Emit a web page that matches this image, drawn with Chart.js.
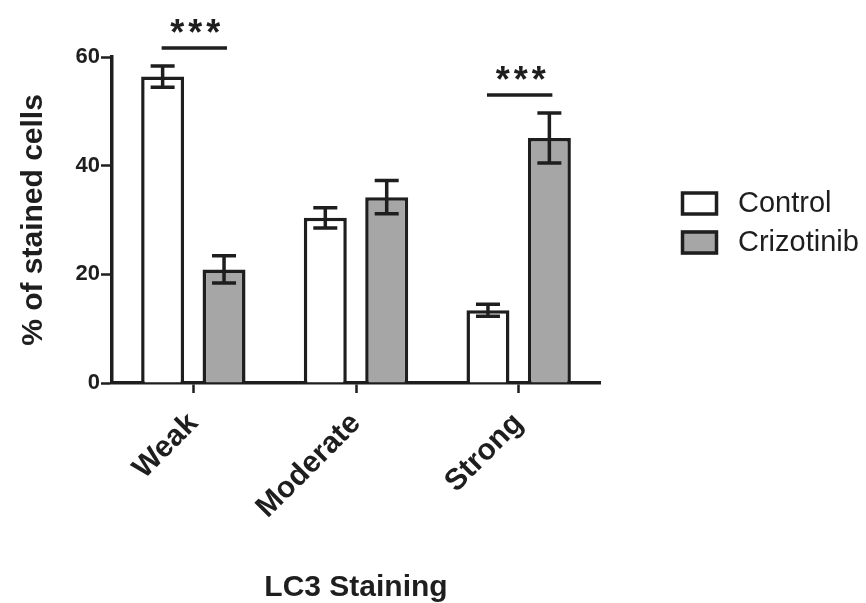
<!DOCTYPE html>
<html>
<head>
<meta charset="utf-8">
<script src="https://cdn.jsdelivr.net/npm/chart.js@4.4.1/dist/chart.umd.min.js"></script>
<style>
  html, body { margin: 0; padding: 0; background: #fff; }
  #wrap { width: 866px; height: 603px; }
</style>
</head>
<body>
<div id="wrap"><canvas id="chart" width="866" height="603"></canvas></div>
<script>
// data
const categories = ['Weak', 'Moderate', 'Strong'];
const seriesNames = ['Control', 'Crizotinib'];
const controlValues = [56.4, 30.4, 13.4];
const controlErrors = [1.95, 1.85, 1.1];
const crizotinibValues = [20.9, 34.2, 45.1];
const crizotinibErrors = [2.5, 3.05, 4.6];
const yTicks = [0, 20, 40, 60];
const sigCategories = [0, 2]; // Weak, Strong
const sigLabels = ['***', '***'];

const ink = '#1e1e1e';
const fontFamily = '"Liberation Sans", Arial, sans-serif';

// error bars + significance marks
const errorBarPlugin = {
    id: 'errorBars',
    afterDatasetsDraw(chart) {
        const ctx = chart.ctx;
        const yScale = chart.scales.y;
        const errs = [controlErrors, crizotinibErrors];
        ctx.save();
        ctx.strokeStyle = ink;
        ctx.lineWidth = 3.5;
        chart.data.datasets.forEach((ds, i) => {
            const meta = chart.getDatasetMeta(i);
            meta.data.forEach((bar, j) => {
                const v = ds.data[j];
                const e = errs[i][j];
                const top = yScale.getPixelForValue(v + e);
                const bot = yScale.getPixelForValue(v - e);
                const half = 12;
                ctx.beginPath();
                ctx.moveTo(bar.x, top);
                ctx.lineTo(bar.x, bot);
                ctx.moveTo(bar.x - half, top);
                ctx.lineTo(bar.x + half, top);
                ctx.moveTo(bar.x - half, bot);
                ctx.lineTo(bar.x + half, bot);
                ctx.stroke();
            });
        });

        // significance lines
        sigCategories.forEach((idx, k) => {
            const b0 = chart.getDatasetMeta(0).data[idx];
            const b1 = chart.getDatasetMeta(1).data[idx];
            const highest = Math.max(controlValues[idx] + controlErrors[idx],
                                     crizotinibValues[idx] + crizotinibErrors[idx]);
            const y = yScale.getPixelForValue(highest + 3.3);
            ctx.lineWidth = 3.5;
            ctx.beginPath();
            ctx.moveTo(b0.x - 1, y);
            ctx.lineTo(b1.x + 3, y);
            ctx.stroke();
            ctx.fillStyle = ink;
            ctx.font = 'bold 36px ' + fontFamily;
            ctx.textAlign = 'center';
            ctx.textBaseline = 'middle';
            ctx.letterSpacing = '4px';
            ctx.fillText(sigLabels[k], (b0.x + b1.x) / 2 + 4, y - 13);
            ctx.letterSpacing = '0px';
        });
        ctx.restore();
    }
};

// legend on the right, drawn from the datasets
const sideLegendPlugin = {
    id: 'sideLegend',
    afterDraw(chart) {
        const ctx = chart.ctx;
        const area = chart.chartArea;
        const x = area.right + 81;
        const step = 39;
        const mid = (area.top + area.bottom) / 2 + 3;
        ctx.save();
        chart.data.datasets.forEach((ds, i) => {
            const cy = mid + (i - 0.5) * step;
            ctx.fillStyle = ds.backgroundColor;
            ctx.fillRect(x, cy - 12, 37, 24);
            ctx.strokeStyle = ink;
            ctx.lineWidth = 3.5;
            ctx.strokeRect(x + 1.5, cy - 10.5, 34, 21);
            ctx.fillStyle = ink;
            ctx.font = '29px ' + fontFamily;
            ctx.textAlign = 'left';
            ctx.textBaseline = 'middle';
            ctx.fillText(ds.label, x + 57, cy);
        });
        ctx.restore();
    }
};

const ctx = document.getElementById('chart').getContext('2d');
new Chart(ctx, {
    type: 'bar',
    data: {
        labels: categories,
        datasets: [
            {
                label: seriesNames[0],
                data: controlValues,
                backgroundColor: '#ffffff',
                borderColor: ink,
                borderWidth: 3.5,
                barPercentage: 0.7,
                categoryPercentage: 0.755
            },
            {
                label: seriesNames[1],
                data: crizotinibValues,
                backgroundColor: '#a6a6a6',
                borderColor: ink,
                borderWidth: 3.5,
                barPercentage: 0.7,
                categoryPercentage: 0.755
            }
        ]
    },
    options: {
        responsive: false,
        animation: false,
        layout: { padding: { top: 57, right: 266, bottom: 0, left: 0 } },
        plugins: {
            legend: { display: false },
            tooltip: { enabled: false }
        },
        scales: {
            x: {
                grid: {
                    offset: false,
                    drawOnChartArea: false,
                    drawTicks: true,
                    tickLength: 10,
                    tickWidth: 2.5,
                    tickColor: ink
                },
                border: { display: true, color: ink, width: 3.5 },
                ticks: {
                    color: ink,
                    font: { family: fontFamily, size: 30, weight: 'bold' },
                    minRotation: 45,
                    maxRotation: 45,
                    autoSkip: false,
                    padding: 13
                },
                title: {
                    display: true,
                    text: 'LC3 Staining',
                    color: ink,
                    font: { family: fontFamily, size: 30, weight: 'bold', lineHeight: 1.0 },
                    padding: { top: 0, bottom: 0 }
                },
                afterFit(scale) { scale.height = 220; }
            },
            y: {
                min: 0,
                max: 60,
                afterBuildTicks(scale) { scale.ticks = yTicks.map(v => ({ value: v })); },
                grid: {
                    drawOnChartArea: false,
                    drawTicks: true,
                    tickLength: 11,
                    tickWidth: 2.5,
                    tickColor: ink
                },
                border: { display: true, color: ink, width: 3.5 },
                ticks: {
                    color: ink,
                    font: { family: fontFamily, size: 22, weight: 'bold' },
                    padding: 1
                },
                title: {
                    display: true,
                    text: '% of stained cells',
                    color: ink,
                    font: { family: fontFamily, size: 30, weight: 'bold', lineHeight: 1.2 },
                    padding: { top: 16, bottom: 0 }
                },
                afterFit(scale) { scale.width = 112; }
            }
        }
    },
    plugins: [errorBarPlugin, sideLegendPlugin]
});
</script>
</body>
</html>
